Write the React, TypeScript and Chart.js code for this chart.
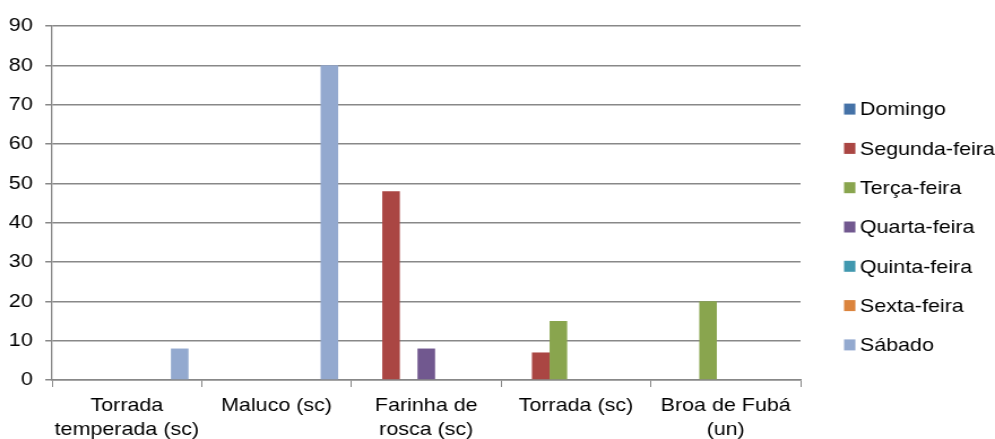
import { useEffect, useRef } from "react";
import { Chart, registerables } from "chart.js";

Chart.register(...registerables);

// ---- data ----
const categories: string[][] = [
  ["Torrada", "temperada (sc)"],
  ["Maluco (sc)"],
  ["Farinha de", "rosca (sc)"],
  ["Torrada (sc)"],
  ["Broa de Fubá", "(un)"],
];
const seriesNames = [
  "Domingo",
  "Segunda-feira",
  "Terça-feira",
  "Quarta-feira",
  "Quinta-feira",
  "Sexta-feira",
  "Sábado",
];
const domingo = [null, null, null, null, null];
const segundaFeira = [null, null, 48, 7, null];
const tercaFeira = [null, null, null, 15, 20];
const quartaFeira = [null, null, 8, null, null];
const quintaFeira = [null, null, null, null, null];
const sextaFeira = [null, null, null, null, null];
const sabado = [8, 80, null, null, null];
const seriesValues = [domingo, segundaFeira, tercaFeira, quartaFeira, quintaFeira, sextaFeira, sabado];
const seriesColors = ["#4572A7", "#AA4643", "#89A54E", "#71588F", "#4198AF", "#DB843D", "#93A9CF"];
const yMin = 0;
const yMax = 90;
const yStep = 10;

// ---- styling ----
const FONT = '"Liberation Sans", Arial, Helvetica, sans-serif';
const FONT_SIZE = 19;
const GRID = "#888888";
const INTERNAL_W = 880; // canvas drawn narrower, then stretched horizontally like the reference
const OUT_W = 995;
const OUT_H = 439;

const sideLegend = {
  id: "sideLegend",
  afterDraw(chart: any) {
    const { ctx, chartArea } = chart;
    const items = chart.data.datasets;
    const step = 39.3;
    const midY = (chartArea.top + chartArea.bottom) / 2 + 24;
    const x0 = chartArea.right + 38.5;
    ctx.save();
    ctx.font = `${FONT_SIZE}px ${FONT}`;
    ctx.textBaseline = "middle";
    ctx.textAlign = "left";
    items.forEach((ds: any, i: number) => {
      const y = midY + (i - (items.length - 1) / 2) * step;
      ctx.fillStyle = ds.backgroundColor;
      ctx.fillRect(x0, y - 5.5, 10, 11);
      ctx.fillStyle = "#000000";
      ctx.fillText(ds.label, x0 + 14, y + 1);
    });
    ctx.restore();
  },
};

export default function App() {
  const ref = useRef<HTMLCanvasElement>(null);

  useEffect(() => {
    const canvas = ref.current;
    if (!canvas) return;
    const chart = new Chart(canvas, {
      type: "bar",
      data: {
        labels: categories,
        datasets: seriesNames.map((name, i) => ({
          label: name,
          data: seriesValues[i],
          backgroundColor: seriesColors[i],
          borderWidth: 0,
          categoryPercentage: 7 / 8.5,
          barPercentage: 1,
        })),
      },
      options: {
        responsive: false,
        animation: false,
        devicePixelRatio: 1,
        events: [],
        layout: { padding: { top: 26, right: 172, left: 0, bottom: 0 } },
        plugins: {
          legend: { display: false },
          tooltip: { enabled: false },
          title: { display: false },
        },
        scales: {
          x: {
            afterFit(scale: any) {
              scale.height = 59;
            },
            grid: {
              display: true,
              drawOnChartArea: false,
              drawTicks: true,
              tickLength: 7,
              color: GRID,
              lineWidth: 1,
              offset: true,
            },
            border: { display: true, color: GRID, width: 1.5 },
            ticks: {
              color: "#000000",
              font: { family: FONT, size: FONT_SIZE, lineHeight: 1.3 },
              padding: 6,
              maxRotation: 0,
              minRotation: 0,
              autoSkip: false,
            },
          },
          y: {
            min: yMin,
            max: yMax,
            afterFit(scale: any) {
              scale.width = 46;
            },
            grid: {
              color: GRID,
              lineWidth: 1.5,
              drawTicks: true,
              tickLength: 6,
            },
            border: { display: true, color: GRID, width: 1.3 },
            ticks: {
              stepSize: yStep,
              color: "#000000",
              font: { family: FONT, size: FONT_SIZE },
              padding: 11,
            },
          },
        },
      },
      plugins: [sideLegend],
    } as any);
    return () => chart.destroy();
  }, []);

  return (
    <div
      style={{
        position: "absolute",
        left: 0,
        top: 0,
        width: OUT_W,
        height: OUT_H,
        overflow: "hidden",
        background: "#ffffff",
      }}
    >
      <canvas
        ref={ref}
        width={INTERNAL_W}
        height={OUT_H}
        style={{ width: `${OUT_W}px`, height: `${OUT_H}px`, display: "block" }}
      />
    </div>
  );
}
